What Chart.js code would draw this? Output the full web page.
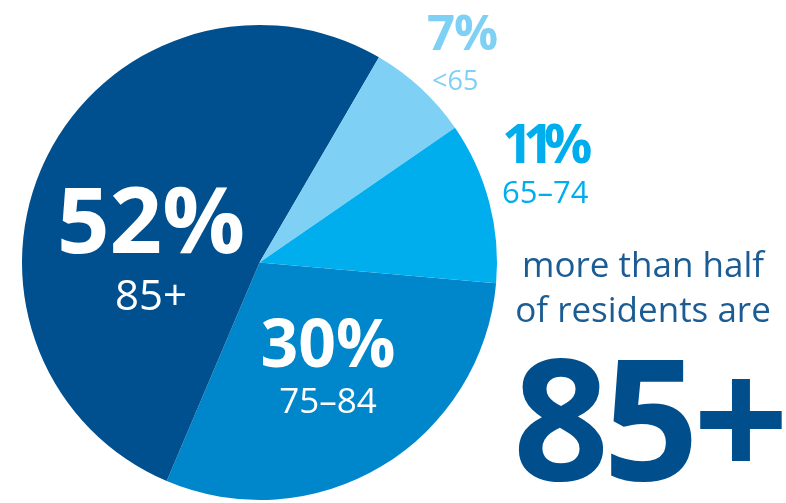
<!DOCTYPE html>
<html>
<head>
<meta charset="utf-8">
<script src="https://cdn.jsdelivr.net/npm/chart.js@4"></script>
<style>
  html, body { margin: 0; padding: 0; background: #fff; }
  #wrap { width: 786px; height: 503px; position: relative; }
</style>
</head>
<body>
<div id="wrap"><canvas id="myChart" width="786" height="503"></canvas></div>
<script>
// age groups, clockwise from the 3 o'clock line
const categories = ['75–84', '85+', '<65', '65–74'];
const shares = [30, 52, 7, 11];
const sliceColors = ['#0086cb', '#00508f', '#7fd0f5', '#00aeee'];

const headline = ['more than half', 'of residents are'];
const bigLabel = '85+';

// where each slice's label goes (baseline coords)
const labelSpots = [
    { x: 328, y: 367, sub: 413, big: 66, small: 35, align: 'center', color: '#ffffff', ls: 0 },
    { x: 151, y: 253, sub: 310, big: 92, small: 42, align: 'center', color: '#ffffff', ls: 0 },
    { x: 427, y: 50, sub: 90, big: 49, small: 27, align: 'left', color: '#7fd0f5', ls: -1, subX: 432 },
    { x: 502, y: 163, sub: 203, big: 54, small: 31, align: 'left', color: '#00aeee', ls: -10 }
];

const textPlugin = {
    id: 'sliceText',
    afterDraw(chart) {
        const c = chart.ctx;
        c.save();
        c.textBaseline = 'alphabetic';
        shares.forEach((v, i) => {
            const s = labelSpots[i];
            c.fillStyle = s.color;
            c.textAlign = s.align;
            c.letterSpacing = s.ls + 'px';
            c.font = 'bold ' + s.big + 'px "Open Sans"';
            c.fillText(v + '%', s.x, s.y);
            c.letterSpacing = '0px';
            c.font = s.small + 'px "Open Sans"';
            c.fillText(categories[i], s.subX || s.x, s.sub);
        });
        // right hand note
        c.textAlign = 'center';
        c.fillStyle = '#1b5c94';
        c.font = '35px "Open Sans"';
        c.fillText(headline[0], 643, 277);
        c.fillText(headline[1], 643, 322);
        c.fillStyle = '#004f8c';
        c.letterSpacing = '-6px';
        c.font = 'bold 168px "Open Sans"';
        c.fillText(bigLabel, 648, 480);
        c.restore();
    }
};

const ctx = document.getElementById('myChart');
new Chart(ctx, {
    type: 'pie',
    data: {
        labels: categories,
        datasets: [{
            data: shares,
            backgroundColor: sliceColors,
            borderWidth: 0
        }]
    },
    options: {
        responsive: false,
        animation: false,
        rotation: 95,
        layout: {
            padding: { left: 22, right: 289, top: 25, bottom: 3 }
        },
        plugins: {
            legend: { display: false },
            tooltip: { enabled: false }
        }
    },
    plugins: [textPlugin]
});
</script>
</body>
</html>
